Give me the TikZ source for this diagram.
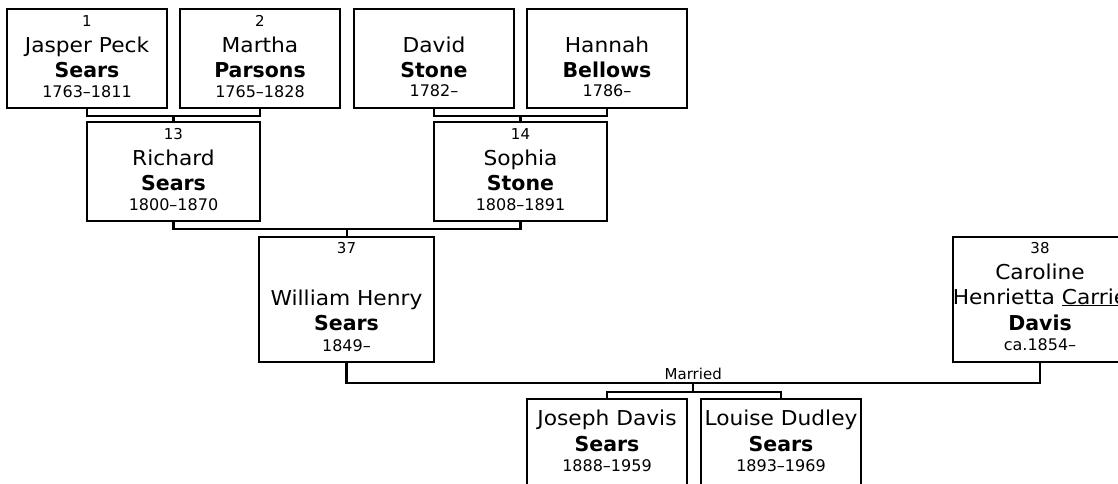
\documentclass[tikz,border=0pt]{standalone}
\usepackage{fontspec}
\setmainfont{DejaVu Sans}
\newfontfamily\regfont[FakeStretch=1.06]{DejaVu Sans}
\usetikzlibrary{calc}
\tikzset{
  pbox/.style={draw, line width=2.2pt, rectangle, inner sep=0pt, outer sep=0pt, fill=white},
  conn/.style={draw, line width=2.2pt, line join=miter},
  numtxt/.style={anchor=base, inner sep=0pt, font=\fontsize{15}{15}\selectfont},
  nametxt/.style={anchor=base, inner sep=0pt, font=\regfont\fontsize{20.5}{20.5}\selectfont},
  surtxt/.style={anchor=base, inner sep=0pt, font=\bfseries\fontsize{20.5}{20.5}\selectfont},
  yeartxt/.style={anchor=base, inner sep=0pt, font=\fontsize{16}{16}\selectfont},
  lbltxt/.style={anchor=base, inner sep=0pt, font=\fontsize{15}{15}\selectfont},
}
\begin{document}
\begin{tikzpicture}[x=1pt, y=-1pt]
\clip (0,0) rectangle (1118,483);
\fill[white] (0,0) rectangle (1118,483);

% boxes
\node[pbox, minimum width=160pt, minimum height=99pt] (b1) at (87,58.5) {};
\node[pbox, minimum width=160pt, minimum height=99pt] (b2) at (260,58.5) {};
\node[pbox, minimum width=160pt, minimum height=99pt] (b3) at (434,58.5) {};
\node[pbox, minimum width=160pt, minimum height=99pt] (b4) at (607,58.5) {};
\node[pbox, minimum width=173pt, minimum height=99pt] (b13) at (173.5,171.5) {};
\node[pbox, minimum width=173pt, minimum height=99pt] (b14) at (520.5,171.5) {};
\node[pbox, minimum width=175pt, minimum height=125pt] (b37) at (346.5,299.5) {};
\node[pbox, minimum width=174pt, minimum height=125pt] (b38) at (1040,299.5) {};
\node[pbox, minimum width=160pt, minimum height=101pt] (c1) at (607,449.5) {};
\node[pbox, minimum width=160pt, minimum height=101pt] (c2) at (781,449.5) {};

% texts
\node[numtxt]  (t1a) at ($(b1.north)+(0,17)$) {1};
\node[nametxt] (t1b) at ($(b1.north)+(0,43)$) {Jasper Peck};
\node[surtxt]  (t1c) at ($(b1.north)+(0,68)$) {Sears};
\node[yeartxt] (t1d) at ($(b1.north)+(0,88)$) {1763–1811};

\node[numtxt]  (t2a) at ($(b2.north)+(0,17)$) {2};
\node[nametxt] (t2b) at ($(b2.north)+(0,43)$) {Martha};
\node[surtxt]  (t2c) at ($(b2.north)+(0,68)$) {Parsons};
\node[yeartxt] (t2d) at ($(b2.north)+(0,88)$) {1765–1828};

\node[nametxt] (t3b) at ($(b3.north)+(0,43)$) {David};
\node[surtxt]  (t3c) at ($(b3.north)+(0,68)$) {Stone};
\node[yeartxt] (t3d) at ($(b3.north)+(0,87)$) {1782–};

\node[nametxt] (t4b) at ($(b4.north)+(0,43)$) {Hannah};
\node[surtxt]  (t4c) at ($(b4.north)+(0,68)$) {Bellows};
\node[yeartxt] (t4d) at ($(b4.north)+(0,87)$) {1786–};

\node[numtxt]  (t13a) at ($(b13.north)+(0,17)$) {13};
\node[nametxt] (t13b) at ($(b13.north)+(0,43.5)$) {Richard};
\node[surtxt]  (t13c) at ($(b13.north)+(0,68.5)$) {Sears};
\node[yeartxt] (t13d) at ($(b13.north)+(0,88.5)$) {1800–1870};

\node[numtxt]  (t14a) at ($(b14.north)+(0,17)$) {14};
\node[nametxt] (t14b) at ($(b14.north)+(0,43.5)$) {Sophia};
\node[surtxt]  (t14c) at ($(b14.north)+(0,68.5)$) {Stone};
\node[yeartxt] (t14d) at ($(b14.north)+(0,88.5)$) {1808–1891};

\node[numtxt]  (t37a) at ($(b37.north)+(0,16)$) {37};
\node[nametxt] (t37b) at ($(b37.north)+(0,68)$) {William Henry};
\node[surtxt]  (t37c) at ($(b37.north)+(0,93.5)$) {Sears};
\node[yeartxt] (t37d) at ($(b37.north)+(0,114)$) {1849–};

\node[numtxt]  (t38a) at ($(b38.north)+(0,16)$) {38};
\node[nametxt] (t38b) at ($(b38.north)+(0,42)$) {Caroline};
\node[nametxt] (t38c) at ($(b38.north)+(0,67)$) {Henrietta \underline{Carrie}};
\node[surtxt]  (t38d) at ($(b38.north)+(0,93)$) {Davis};
\node[yeartxt] (t38e) at ($(b38.north)+(0,113)$) {ca.1854–};

\node[nametxt] (tc1b) at ($(c1.north)+(0,26)$) {Joseph Davis};
\node[surtxt]  (tc1c) at ($(c1.north)+(0,52.5)$) {Sears};
\node[yeartxt] (tc1d) at ($(c1.north)+(0,72.5)$) {1888–1959};

\node[nametxt] (tc2b) at ($(c2.north)+(0,26)$) {Louise Dudley};
\node[surtxt]  (tc2c) at ($(c2.north)+(0,52.5)$) {Sears};
\node[yeartxt] (tc2d) at ($(c2.north)+(0,72.5)$) {1893–1969};

% connectors
\coordinate (m12) at ($(b1.south)!0.5!(b2.south)+(0,8)$);
\draw[conn] (b1.south) |- (m12) -| (b2.south);
\draw[conn] (m12) -- (b13.north);

\coordinate (m34) at ($(b3.south)!0.5!(b4.south)+(0,8)$);
\draw[conn] (b3.south) |- (m34) -| (b4.south);
\draw[conn] (m34) -- (b14.north);

\coordinate (m1314) at ($(b13.south)!0.5!(b14.south)+(0,8)$);
\draw[conn] (b13.south) |- (m1314) -| (b14.south);
\draw[conn] (m1314) -- (m1314 |- b37.north);

\coordinate (mm) at ($(b37.south)!0.5!(b38.south)+(0,21)$);
\draw[conn] (b37.south) |- (mm) -| (b38.south);
\node[lbltxt] (married) at ($(mm)+(0,-4)$) {Married};
\coordinate (cj) at ($(mm)+(0,9)$);
\draw[conn] (mm) -- (cj);
\draw[conn] (c1.north) |- (cj) -| (c2.north);
\end{tikzpicture}
\end{document}
